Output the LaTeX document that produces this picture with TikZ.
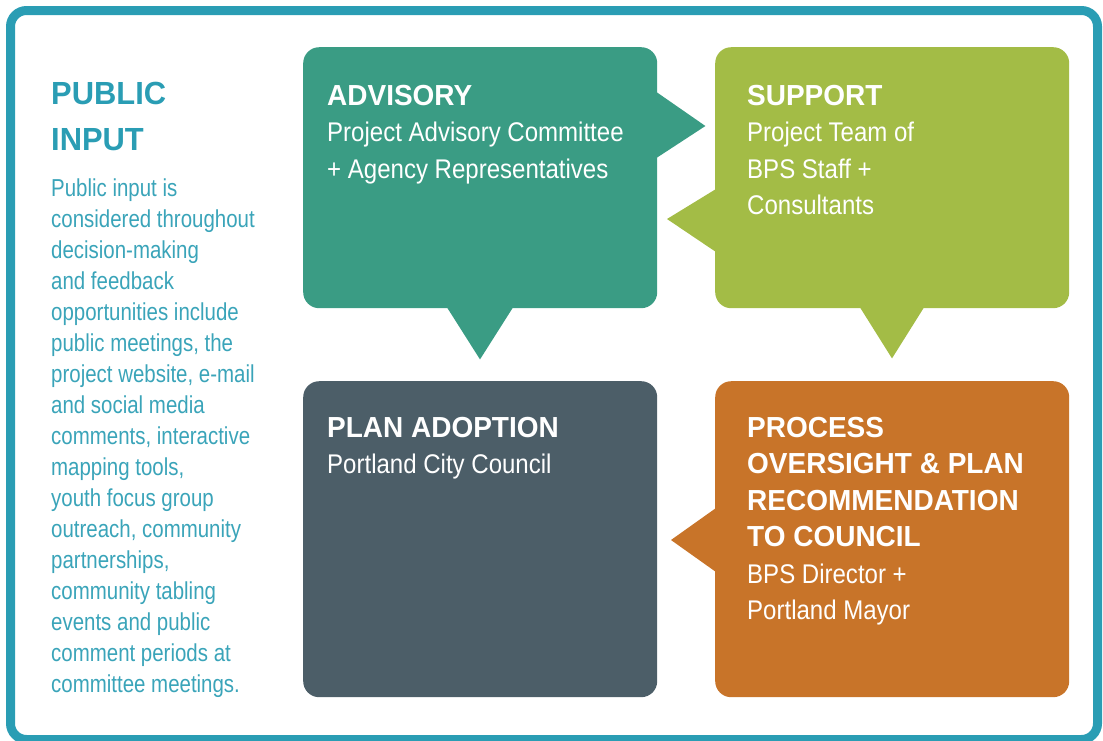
\documentclass[tikz,border=0pt]{standalone}
\usepackage{fontspec}
\usetikzlibrary{calc}

\newfontfamily\headfont{Liberation Sans}[FakeStretch=0.965]
\newfontfamily\boxfont{Liberation Sans}[FakeStretch=0.89]
\newfontfamily\notefont{Liberation Sans}[FakeStretch=0.835]

\definecolor{frameteal}{HTML}{2A9DB4}
\definecolor{noteteal}{HTML}{3AA4B9}
\definecolor{advgreen}{HTML}{3A9C84}
\definecolor{supgreen}{HTML}{A3BC46}
\definecolor{planslate}{HTML}{4C5E68}
\definecolor{procorange}{HTML}{C87429}

\newcommand\panelhead[1]{{\headfont\bfseries\fontsize{29}{36.5}\selectfont #1}}

\begin{document}
\begin{tikzpicture} [
    x=1pt, y=-1pt,
  ]

  \tikzstyle{panel} = [
    rectangle,
    rounded corners=16,
    inner sep=0,
    anchor=north west,
    minimum width=354,
  ]
  \tikzstyle{paneltext} = [
    anchor=north west,
    inner sep=0,
    align=left,
    text=white,
    font=\boxfont\fontsize{27}{36.5}\selectfont,
  ]

  \useasboundingbox (0,0) rectangle (1103,740);
  \draw[frameteal, line width=9, rounded corners=16] (10.5,10.5) rectangle (1097.5,739.5);

  % left column
  \node[anchor=north west, inner sep=0, align=left, text=frameteal,
        font=\headfont\bfseries\fontsize{32}{46}\selectfont] (pubhead) at (51,82)
        {PUBLIC\\INPUT};
  \node[anchor=north west, inner sep=0, align=left, text=noteteal,
        font=\notefont\fontsize{24.5}{31}\selectfont] (pubtext) at (51,179)
        {Public input is\\considered throughout\\decision-making\\and feedback\\
         opportunities include\\public meetings, the\\project website, e-mail\\
         and social media\\comments, interactive\\mapping tools,\\youth focus group\\
         outreach, community\\partnerships,\\community tabling\\events and public\\
         comment periods at\\committee meetings.};

  % panels
  \node[panel, fill=advgreen,   minimum height=261] (adv)  at (303,47)  {};
  \node[panel, fill=supgreen,   minimum height=261] (sup)  at (715,47)  {};
  \node[panel, fill=planslate,  minimum height=316] (plan) at (303,381) {};
  \node[panel, fill=procorange, minimum height=316] (proc) at (715,381) {};

  % pointers
  \fill[advgreen] ($(adv.north east)+(-1,45)$) -- ($(adv.north east)+(48,79)$)
    -- ($(adv.north east)+(-1,111)$) -- cycle;
  \fill[advgreen] ($(adv.south west)+(144,-1)$) -- ($(adv.south west)+(177,51)$)
    -- ($(adv.south west)+(210,-1)$) -- cycle;
  \fill[supgreen] ($(sup.north west)+(1,142)$) -- ($(sup.north west)+(-48,172)$)
    -- ($(sup.north west)+(1,205)$) -- cycle;
  \fill[supgreen] ($(sup.south west)+(145,-1)$) -- ($(sup.south west)+(177,50)$)
    -- ($(sup.south west)+(209,-1)$) -- cycle;
  \fill[procorange] ($(proc.north west)+(1,127)$) -- ($(proc.north west)+(-44,159)$)
    -- ($(proc.north west)+(1,191)$) -- cycle;

  % panel texts
  \node[paneltext] (advtext) at ($(adv.north west)+(24,38)$)
    {\panelhead{ADVISORY}\\Project Advisory Committee\\+ Agency Representatives};
  \node[paneltext] (suptext) at ($(sup.north west)+(32,38)$)
    {\panelhead{SUPPORT}\\Project Team of\\BPS Staff +\\Consultants};
  \node[paneltext] (plantext) at ($(plan.north west)+(24,36)$)
    {\panelhead{PLAN ADOPTION}\\Portland City Council};
  \node[paneltext] (proctext) at ($(proc.north west)+(32,36)$)
    {\panelhead{PROCESS}\\\panelhead{OVERSIGHT \& PLAN}\\\panelhead{RECOMMENDATION}\\
     \panelhead{TO COUNCIL}\\BPS Director +\\Portland Mayor};

\end{tikzpicture}
\end{document}
